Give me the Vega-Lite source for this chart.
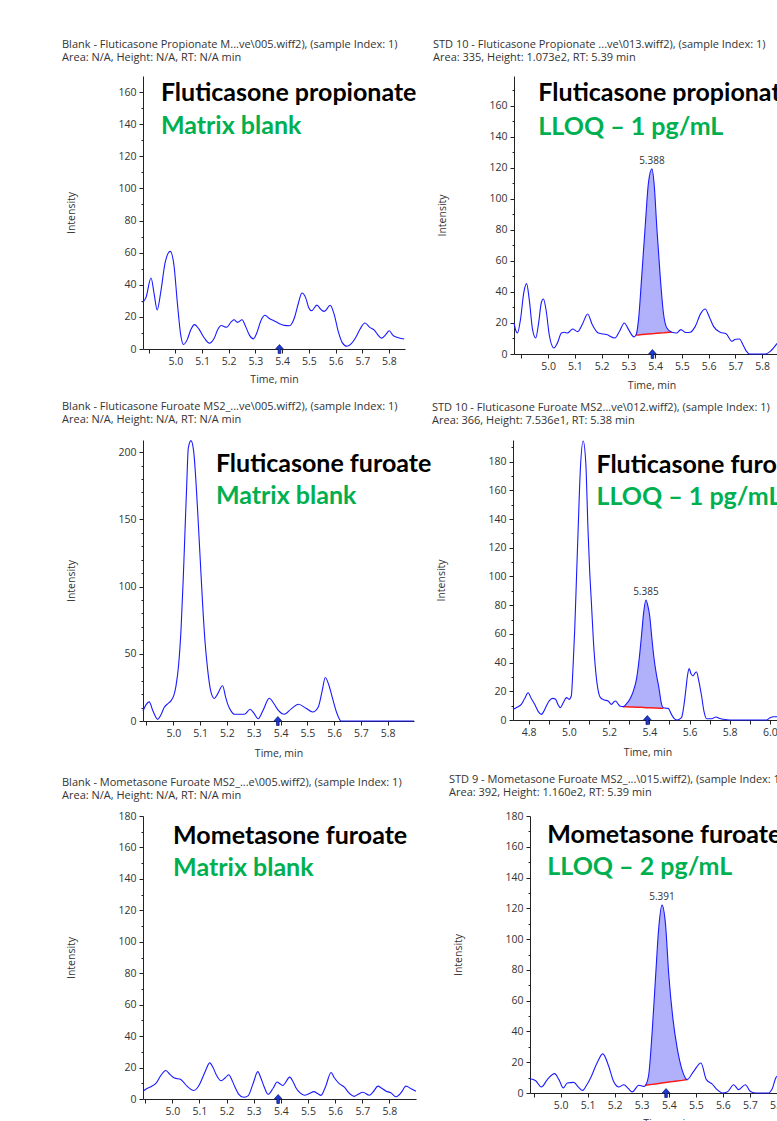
{
"$schema": "https://vega.github.io/schema/vega-lite/v6.json",
"padding": {"left": 62, "top": 39, "right": 0, "bottom": 0},
"config": {
  "view": {"stroke": null},
  "font": "Open Sans",
  "axis": {"grid": false, "domainColor": "#222", "tickColor": "#222", "labelColor": "#333", "labelFontSize": 10.5, "labelFont": "Open Sans", "titleFont": "Open Sans", "titleFontSize": 10.5, "titleFontWeight": "normal", "titleColor": "#333", "tickSize": 4, "labelPadding": 3},
  "title": {"anchor": "start", "frame": "bounds", "font": "Open Sans", "fontSize": 11, "fontWeight": "normal", "color": "#333", "subtitleFont": "Open Sans", "subtitleFontSize": 11, "subtitleColor": "#333", "subtitlePadding": 2, "offset": 13, "dx": -4},
  "text": {"font": "Lato", "fontWeight": "bold", "fontSize": 25, "align": "left", "baseline": "alphabetic"},
  "point": {"shape": "M0,-1L0.85,-0.05L0.3,-0.05L0.3,1L-0.3,1L-0.3,-0.05L-0.85,-0.05Z", "filled": true, "color": "#1a3bd6", "stroke": "#000060", "strokeWidth": 0.6, "size": 80, "yOffset": 5, "opacity": 1}
},
"datasets": {
  "one": [{}],
  "p1": [{"t":4.878,"v":29},{"t":4.890,"v":32},{"t":4.909,"v":44.2},{"t":4.921,"v":34},{"t":4.932,"v":24.3},{"t":4.946,"v":36},{"t":4.962,"v":54},{"t":4.981,"v":60.8},{"t":4.995,"v":52},{"t":5.008,"v":28},{"t":5.020,"v":9},{"t":5.031,"v":2.8},{"t":5.045,"v":6},{"t":5.058,"v":12},{"t":5.072,"v":15.2},{"t":5.088,"v":12.5},{"t":5.108,"v":7},{"t":5.128,"v":3.6},{"t":5.145,"v":6.5},{"t":5.160,"v":12.5},{"t":5.172,"v":14.6},{"t":5.192,"v":13.5},{"t":5.210,"v":17},{"t":5.220,"v":18.2},{"t":5.233,"v":16.6},{"t":5.250,"v":18.2},{"t":5.262,"v":14.5},{"t":5.278,"v":8.5},{"t":5.292,"v":6.3},{"t":5.305,"v":10},{"t":5.320,"v":17.5},{"t":5.336,"v":21},{"t":5.352,"v":19},{"t":5.371,"v":17.5},{"t":5.390,"v":15.8},{"t":5.408,"v":14.7},{"t":5.428,"v":14.5},{"t":5.445,"v":19},{"t":5.460,"v":28},{"t":5.474,"v":34.9},{"t":5.488,"v":32},{"t":5.500,"v":25.5},{"t":5.510,"v":23.8},{"t":5.530,"v":27.3},{"t":5.546,"v":24.5},{"t":5.558,"v":23.4},{"t":5.580,"v":27.2},{"t":5.594,"v":22},{"t":5.610,"v":11},{"t":5.625,"v":4},{"t":5.643,"v":1.7},{"t":5.660,"v":3.5},{"t":5.675,"v":7},{"t":5.692,"v":12.5},{"t":5.710,"v":16.2},{"t":5.728,"v":13.5},{"t":5.745,"v":11.8},{"t":5.760,"v":8.5},{"t":5.773,"v":6.8},{"t":5.788,"v":9},{"t":5.801,"v":11.4},{"t":5.815,"v":8.5},{"t":5.830,"v":7.3},{"t":5.857,"v":6.2}],
  "p2": [{"t":4.873,"v":20},{"t":4.880,"v":15},{"t":4.886,"v":13.5},{"t":4.897,"v":22},{"t":4.910,"v":40},{"t":4.920,"v":45.3},{"t":4.930,"v":35},{"t":4.942,"v":16},{"t":4.954,"v":10.3},{"t":4.965,"v":20},{"t":4.975,"v":33},{"t":4.983,"v":35.4},{"t":4.993,"v":28},{"t":5.005,"v":12},{"t":5.022,"v":3.9},{"t":5.035,"v":7},{"t":5.050,"v":13.5},{"t":5.062,"v":14},{"t":5.072,"v":13.5},{"t":5.092,"v":16.1},{"t":5.111,"v":14.4},{"t":5.128,"v":19},{"t":5.148,"v":25.8},{"t":5.165,"v":19},{"t":5.188,"v":13.5},{"t":5.219,"v":12.5},{"t":5.250,"v":10.3},{"t":5.268,"v":15},{"t":5.285,"v":20},{"t":5.300,"v":16},{"t":5.321,"v":11},{"t":5.329,"v":12.4},{"t":5.338,"v":22},{"t":5.350,"v":50},{"t":5.363,"v":82.3},{"t":5.375,"v":110},{"t":5.388,"v":119.2},{"t":5.397,"v":108},{"t":5.406,"v":82.3},{"t":5.419,"v":50},{"t":5.431,"v":26.4},{"t":5.444,"v":16.7},{"t":5.462,"v":14},{"t":5.480,"v":13.5},{"t":5.496,"v":15.7},{"t":5.515,"v":13.8},{"t":5.531,"v":14},{"t":5.550,"v":17.8},{"t":5.570,"v":26},{"t":5.587,"v":29},{"t":5.602,"v":24},{"t":5.618,"v":17.8},{"t":5.643,"v":14},{"t":5.665,"v":13.1},{"t":5.687,"v":8.2},{"t":5.700,"v":9.5},{"t":5.715,"v":9.7},{"t":5.728,"v":6},{"t":5.740,"v":2},{"t":5.753,"v":0},{"t":5.811,"v":0},{"t":5.830,"v":1.7},{"t":5.857,"v":7.1},{"t":5.880,"v":12},{"t":5.900,"v":14}],
  "p2pk": [{"t":5.329,"v":12.4,"base":12.2},{"t":5.338,"v":22,"base":12.3},{"t":5.350,"v":50,"base":12.5},{"t":5.363,"v":82.3,"base":12.7},{"t":5.375,"v":110,"base":12.9},{"t":5.388,"v":119.2,"base":13.1},{"t":5.397,"v":108,"base":13.2},{"t":5.406,"v":82.3,"base":13.4},{"t":5.419,"v":50,"base":13.6},{"t":5.431,"v":26.4,"base":13.7},{"t":5.444,"v":16.7,"base":13.9},{"t":5.462,"v":14,"base":14.2}],
  "p3": [{"t":4.887,"v":7.5},{"t":4.898,"v":12},{"t":4.910,"v":14.2},{"t":4.925,"v":7},{"t":4.942,"v":1.2},{"t":4.955,"v":5},{"t":4.966,"v":10},{"t":4.980,"v":13},{"t":4.991,"v":15},{"t":5.002,"v":19},{"t":5.010,"v":26},{"t":5.020,"v":42},{"t":5.029,"v":68.5},{"t":5.037,"v":105},{"t":5.044,"v":143},{"t":5.050,"v":175},{"t":5.056,"v":203},{"t":5.066,"v":208.5},{"t":5.076,"v":200.5},{"t":5.084,"v":180},{"t":5.091,"v":155.7},{"t":5.100,"v":122},{"t":5.109,"v":88.4},{"t":5.118,"v":60},{"t":5.128,"v":38.6},{"t":5.140,"v":22},{"t":5.153,"v":16.7},{"t":5.165,"v":20},{"t":5.184,"v":26.2},{"t":5.195,"v":18},{"t":5.203,"v":12.5},{"t":5.215,"v":7.5},{"t":5.228,"v":5},{"t":5.265,"v":5},{"t":5.287,"v":8.7},{"t":5.300,"v":6},{"t":5.317,"v":1.7},{"t":5.335,"v":8},{"t":5.358,"v":16.9},{"t":5.375,"v":13},{"t":5.389,"v":8.7},{"t":5.414,"v":5},{"t":5.440,"v":9},{"t":5.467,"v":12.5},{"t":5.495,"v":9.5},{"t":5.520,"v":6.7},{"t":5.540,"v":10},{"t":5.555,"v":22},{"t":5.567,"v":32.4},{"t":5.580,"v":27},{"t":5.595,"v":16.2},{"t":5.610,"v":6},{"t":5.626,"v":0},{"t":5.898,"v":0}],
  "p4": [{"t":4.722,"v":7.4},{"t":4.745,"v":9},{"t":4.763,"v":10.9},{"t":4.780,"v":15},{"t":4.797,"v":19},{"t":4.813,"v":15},{"t":4.830,"v":10.9},{"t":4.847,"v":6},{"t":4.863,"v":3.9},{"t":4.875,"v":6},{"t":4.888,"v":9.8},{"t":4.903,"v":13.5},{"t":4.918,"v":15.1},{"t":4.934,"v":14.4},{"t":4.945,"v":11},{"t":4.958,"v":8.6},{"t":4.972,"v":12},{"t":4.988,"v":15.6},{"t":5.001,"v":14.4},{"t":5.012,"v":16.7},{"t":5.020,"v":35},{"t":5.029,"v":63},{"t":5.038,"v":100},{"t":5.046,"v":132.8},{"t":5.057,"v":174.6},{"t":5.071,"v":194.4},{"t":5.084,"v":179.3},{"t":5.095,"v":132.8},{"t":5.103,"v":105},{"t":5.112,"v":81.7},{"t":5.122,"v":55},{"t":5.134,"v":33},{"t":5.145,"v":21},{"t":5.157,"v":15.6},{"t":5.175,"v":14},{"t":5.195,"v":13.2},{"t":5.212,"v":10.9},{"t":5.223,"v":12.5},{"t":5.233,"v":13.2},{"t":5.243,"v":11.5},{"t":5.253,"v":9.8},{"t":5.270,"v":9.3},{"t":5.285,"v":11},{"t":5.303,"v":14.4},{"t":5.320,"v":20},{"t":5.336,"v":28.3},{"t":5.350,"v":43},{"t":5.361,"v":58.5},{"t":5.372,"v":75},{"t":5.383,"v":83.6},{"t":5.392,"v":80},{"t":5.402,"v":72.5},{"t":5.412,"v":58},{"t":5.422,"v":44.6},{"t":5.435,"v":32},{"t":5.449,"v":21.4},{"t":5.458,"v":13},{"t":5.469,"v":8.5},{"t":5.480,"v":8.3},{"t":5.494,"v":8.1},{"t":5.510,"v":3.9},{"t":5.524,"v":1},{"t":5.539,"v":0},{"t":5.560,"v":1.6},{"t":5.572,"v":10},{"t":5.582,"v":21.4},{"t":5.590,"v":31},{"t":5.598,"v":35.8},{"t":5.608,"v":32},{"t":5.618,"v":30.7},{"t":5.626,"v":32.5},{"t":5.635,"v":33.4},{"t":5.645,"v":28},{"t":5.660,"v":16.7},{"t":5.672,"v":6},{"t":5.685,"v":0.9},{"t":5.710,"v":0.9},{"t":5.731,"v":2.1},{"t":5.750,"v":1},{"t":5.768,"v":0.5},{"t":5.800,"v":0},{"t":5.983,"v":0},{"t":6.000,"v":1.5},{"t":6.017,"v":2.3},{"t":6.060,"v":2.3}],
  "p4pk": [{"t":5.270,"v":9.3,"base":9.3},{"t":5.285,"v":11,"base":9.2},{"t":5.303,"v":14.4,"base":9.1},{"t":5.320,"v":20,"base":9.0},{"t":5.336,"v":28.3,"base":8.9},{"t":5.350,"v":43,"base":8.8},{"t":5.361,"v":58.5,"base":8.8},{"t":5.372,"v":75,"base":8.7},{"t":5.383,"v":83.6,"base":8.6},{"t":5.392,"v":80,"base":8.6},{"t":5.402,"v":72.5,"base":8.5},{"t":5.412,"v":58,"base":8.5},{"t":5.422,"v":44.6,"base":8.4},{"t":5.435,"v":32,"base":8.3},{"t":5.449,"v":21.4,"base":8.2},{"t":5.458,"v":13,"base":8.2},{"t":5.469,"v":8.5,"base":8.1}],
  "p5": [{"t":4.892,"v":4.9},{"t":4.905,"v":6.5},{"t":4.923,"v":8},{"t":4.941,"v":10.2},{"t":4.958,"v":15},{"t":4.976,"v":18.1},{"t":4.992,"v":15.5},{"t":5.008,"v":13.3},{"t":5.030,"v":12.5},{"t":5.042,"v":10.5},{"t":5.055,"v":8},{"t":5.080,"v":5.4},{"t":5.092,"v":7},{"t":5.103,"v":10.2},{"t":5.120,"v":17},{"t":5.138,"v":23},{"t":5.150,"v":20},{"t":5.162,"v":15.4},{"t":5.180,"v":11.6},{"t":5.195,"v":13.5},{"t":5.208,"v":15.4},{"t":5.220,"v":12},{"t":5.230,"v":8},{"t":5.245,"v":3},{"t":5.263,"v":1.1},{"t":5.279,"v":2},{"t":5.298,"v":10},{"t":5.315,"v":17.4},{"t":5.327,"v":13},{"t":5.338,"v":8},{"t":5.353,"v":3},{"t":5.372,"v":7},{"t":5.386,"v":10.8},{"t":5.398,"v":9.5},{"t":5.407,"v":8.6},{"t":5.433,"v":13.9},{"t":5.445,"v":11},{"t":5.456,"v":7},{"t":5.470,"v":4},{"t":5.487,"v":2.4},{"t":5.505,"v":3.5},{"t":5.522,"v":4.7},{"t":5.535,"v":3.5},{"t":5.548,"v":2.3},{"t":5.565,"v":8},{"t":5.585,"v":16.9},{"t":5.597,"v":13.5},{"t":5.615,"v":9.8},{"t":5.634,"v":7.6},{"t":5.650,"v":4},{"t":5.670,"v":1.7},{"t":5.685,"v":3},{"t":5.702,"v":4.3},{"t":5.726,"v":2.4},{"t":5.740,"v":4.5},{"t":5.758,"v":8.2},{"t":5.770,"v":7},{"t":5.788,"v":5},{"t":5.805,"v":4},{"t":5.824,"v":1.4},{"t":5.843,"v":4},{"t":5.861,"v":8.2},{"t":5.880,"v":6.5},{"t":5.898,"v":5}],
  "p6": [{"t":4.887,"v":9.3},{"t":4.908,"v":8},{"t":4.929,"v":3.9},{"t":4.951,"v":8.7},{"t":4.978,"v":12.6},{"t":4.994,"v":8.7},{"t":5.010,"v":3.3},{"t":5.025,"v":6.5},{"t":5.049,"v":6.9},{"t":5.065,"v":4},{"t":5.082,"v":1.7},{"t":5.096,"v":5},{"t":5.111,"v":9.8},{"t":5.135,"v":19.5},{"t":5.156,"v":25.4},{"t":5.178,"v":17.4},{"t":5.195,"v":8},{"t":5.203,"v":5.4},{"t":5.215,"v":3.9},{"t":5.234,"v":5.4},{"t":5.250,"v":3},{"t":5.265,"v":0.7},{"t":5.289,"v":5},{"t":5.308,"v":4.3},{"t":5.314,"v":5},{"t":5.326,"v":12},{"t":5.338,"v":38},{"t":5.351,"v":74.8},{"t":5.363,"v":107.4},{"t":5.375,"v":122.1},{"t":5.388,"v":109.6},{"t":5.400,"v":77},{"t":5.415,"v":48.8},{"t":5.431,"v":29.3},{"t":5.449,"v":15.2},{"t":5.468,"v":8.7},{"t":5.492,"v":14.1},{"t":5.519,"v":19.5},{"t":5.539,"v":8.7},{"t":5.560,"v":5.9},{"t":5.580,"v":2},{"t":5.597,"v":0},{"t":5.616,"v":0.6},{"t":5.640,"v":5.4},{"t":5.658,"v":2.2},{"t":5.683,"v":5.4},{"t":5.701,"v":1.1},{"t":5.720,"v":0},{"t":5.770,"v":0},{"t":5.781,"v":2.2},{"t":5.800,"v":10.8},{"t":5.812,"v":7.5},{"t":5.840,"v":5},{"t":5.870,"v":6},{"t":5.900,"v":5}],
  "p6pk": [{"t":5.314,"v":5,"base":5.0},{"t":5.326,"v":12,"base":5.3},{"t":5.338,"v":38,"base":5.6},{"t":5.351,"v":74.8,"base":5.9},{"t":5.363,"v":107.4,"base":6.2},{"t":5.375,"v":122.1,"base":6.5},{"t":5.388,"v":109.6,"base":6.8},{"t":5.400,"v":77,"base":7.1},{"t":5.415,"v":48.8,"base":7.4},{"t":5.431,"v":29.3,"base":7.8},{"t":5.449,"v":15.2,"base":8.2},{"t":5.468,"v":8.7,"base":8.7}]
},
"spacing": 10,
"vconcat": [
 {"spacing": 16, "hconcat": [
  {"title": {"text": "Blank - Fluticasone Propionate M...ve\\005.wiff2), (sample Index: 1)", "subtitle": "Area: N/A, Height: N/A, RT: N/A min"},
   "width": 262, "height": 273,
   "resolve": {"axis": {"x": "independent", "y": "independent"}},
   "layer": [
    {"data": {"name": "p1"}, "mark": {"type": "line", "interpolate": "monotone", "color": "#1a1aff", "strokeWidth": 1.1},
     "encoding": {
      "x": {"field": "t", "type": "quantitative", "scale": {"domain": [4.879, 5.86], "nice": false, "zero": false}, "axis": {"title": "Time, min", "values": [4.9,5.0,5.1,5.2,5.3,5.4,5.5,5.6,5.7,5.8], "labelExpr": "datum.value < 4.95 ? '' : format(datum.value, '.1f')", "titlePadding": 8}},
      "y": {"field": "v", "type": "quantitative", "scale": {"domain": [0, 170], "nice": false}, "axis": {"title": "Intensity", "values": [0,20,40,60,80,100,120,140,160], "titleX": -67}}}},
    {"data": {"name": "one"}, "mark": {"type": "point"},
     "encoding": {"x": {"datum": 5.39, "type": "quantitative", "axis": null},
      "y": {"datum": 0, "type": "quantitative", "axis": {"orient": "left", "values": [10,30,50,70,90,110,130,150], "labels": false, "title": null, "domain": false, "tickSize": 2}}}},
    {"data": {"name": "one"}, "mark": {"type": "text", "color": "#000000"},
     "encoding": {"x": {"datum": 4.946, "type": "quantitative", "axis": null}, "y": {"datum": 154.2, "type": "quantitative", "axis": null}, "text": {"value": "Fluticasone propionate"}}},
    {"data": {"name": "one"}, "mark": {"type": "text", "color": "#00B050"},
     "encoding": {"x": {"datum": 4.946, "type": "quantitative", "axis": null}, "y": {"datum": 134.1, "type": "quantitative", "axis": null}, "text": {"value": "Matrix blank"}}}
   ]},
  {"title": {"text": "STD 10 - Fluticasone Propionate ...ve\\013.wiff2), (sample Index: 1)", "subtitle": "Area: 335, Height: 1.073e2, RT: 5.39 min"},
   "width": 275, "height": 278,
   "resolve": {"axis": {"x": "independent", "y": "independent"}},
   "layer": [
    {"data": {"name": "p2pk"}, "mark": {"type": "area", "interpolate": "monotone", "color": "#a3a3fa", "opacity": 0.85},
     "encoding": {"x": {"field": "t", "type": "quantitative", "axis": null}, "y": {"field": "v", "type": "quantitative", "axis": null}, "y2": {"field": "base"}}},
    {"data": {"name": "p2pk"}, "mark": {"type": "line", "color": "#ff1a1a", "strokeWidth": 1.5},
     "encoding": {"x": {"field": "t", "type": "quantitative", "axis": null}, "y": {"field": "base", "type": "quantitative", "axis": null}}},
    {"data": {"name": "p2"}, "mark": {"type": "line", "interpolate": "monotone", "color": "#1a1aff", "strokeWidth": 1.1},
     "encoding": {
      "x": {"field": "t", "type": "quantitative", "scale": {"domain": [4.873, 5.90], "nice": false, "zero": false}, "axis": {"title": "Time, min", "values": [4.9,5.0,5.1,5.2,5.3,5.4,5.5,5.6,5.7,5.8,5.9], "labelExpr": "datum.value < 4.95 || datum.value > 5.85 ? '' : format(datum.value, '.1f')", "titlePadding": 9}},
      "y": {"field": "v", "type": "quantitative", "scale": {"domain": [0, 179], "nice": false}, "axis": {"title": "Intensity", "values": [0,20,40,60,80,100,120,140,160], "titleX": -67}}}},
    {"data": {"name": "one"}, "mark": {"type": "point"},
     "encoding": {"x": {"datum": 5.39, "type": "quantitative", "axis": null},
      "y": {"datum": 0, "type": "quantitative", "axis": {"orient": "left", "values": [10,30,50,70,90,110,130,150,170], "labels": false, "title": null, "domain": false, "tickSize": 2}}}},
    {"data": {"name": "one"}, "mark": {"type": "text", "align": "center", "baseline": "bottom", "dy": -3, "font": "Open Sans", "fontWeight": "normal", "fontSize": 10, "color": "#333"},
     "encoding": {"x": {"datum": 5.388, "type": "quantitative", "axis": null}, "y": {"datum": 119.2, "type": "quantitative", "axis": null}, "text": {"value": "5.388"}}},
    {"data": {"name": "one"}, "mark": {"type": "text", "color": "#000000"},
     "encoding": {"x": {"datum": 4.964, "type": "quantitative", "axis": null}, "y": {"datum": 162.8, "type": "quantitative", "axis": null}, "text": {"value": "Fluticasone propionate"}}},
    {"data": {"name": "one"}, "mark": {"type": "text", "color": "#00B050"},
     "encoding": {"x": {"datum": 4.964, "type": "quantitative", "axis": null}, "y": {"datum": 141.3, "type": "quantitative", "axis": null}, "text": {"value": "LLOQ – 1 pg/mL"}}}
   ]}
 ]},
 {"spacing": 15, "vconcat": [
 {"spacing": 0, "hconcat": [
  {"title": {"text": "Blank - Fluticasone Furoate MS2_...ve\\005.wiff2), (sample Index: 1)", "subtitle": "Area: N/A, Height: N/A, RT: N/A min"},
   "width": 271, "height": 281,
   "resolve": {"axis": {"x": "independent", "y": "independent"}},
   "layer": [
    {"data": {"name": "p3"}, "mark": {"type": "line", "interpolate": "monotone", "color": "#1a1aff", "strokeWidth": 1.1},
     "encoding": {
      "x": {"field": "t", "type": "quantitative", "scale": {"domain": [4.887, 5.898], "nice": false, "zero": false}, "axis": {"title": "Time, min", "values": [4.9,5.0,5.1,5.2,5.3,5.4,5.5,5.6,5.7,5.8], "labelExpr": "datum.value < 4.95 ? '' : format(datum.value, '.1f')", "titlePadding": 10}},
      "y": {"field": "v", "type": "quantitative", "scale": {"domain": [0, 209], "nice": false}, "axis": {"title": "Intensity", "values": [0,50,100,150,200], "titleX": -67}}}},
    {"data": {"name": "one"}, "mark": {"type": "point"},
     "encoding": {"x": {"datum": 5.39, "type": "quantitative", "axis": null},
      "y": {"datum": 0, "type": "quantitative", "axis": {"orient": "left", "values": [10,20,30,40,60,70,80,90,110,120,130,140,160,170,180,190], "labels": false, "title": null, "domain": false, "tickSize": 2}}}},
    {"data": {"name": "one"}, "mark": {"type": "text", "color": "#000000"},
     "encoding": {"x": {"datum": 5.159, "type": "quantitative", "axis": null}, "y": {"datum": 185, "type": "quantitative", "axis": null}, "text": {"value": "Fluticasone furoate"}}},
    {"data": {"name": "one"}, "mark": {"type": "text", "color": "#00B050"},
     "encoding": {"x": {"datum": 5.159, "type": "quantitative", "axis": null}, "y": {"datum": 161.2, "type": "quantitative", "axis": null}, "text": {"value": "Matrix blank"}}}
   ]},
  {"title": {"text": "STD 10 - Fluticasone Furoate MS2...ve\\012.wiff2), (sample Index: 1)", "subtitle": "Area: 366, Height: 7.536e1, RT: 5.38 min"},
   "width": 269, "height": 280,
   "resolve": {"axis": {"x": "independent", "y": "independent"}},
   "layer": [
    {"data": {"name": "p4pk"}, "mark": {"type": "area", "interpolate": "monotone", "color": "#a3a3fa", "opacity": 0.85},
     "encoding": {"x": {"field": "t", "type": "quantitative", "axis": null}, "y": {"field": "v", "type": "quantitative", "axis": null}, "y2": {"field": "base"}}},
    {"data": {"name": "p4pk"}, "mark": {"type": "line", "color": "#ff1a1a", "strokeWidth": 1.5},
     "encoding": {"x": {"field": "t", "type": "quantitative", "axis": null}, "y": {"field": "base", "type": "quantitative", "axis": null}}},
    {"data": {"name": "p4"}, "mark": {"type": "line", "interpolate": "monotone", "color": "#1a1aff", "strokeWidth": 1.1},
     "encoding": {
      "x": {"field": "t", "type": "quantitative", "scale": {"domain": [4.722, 6.06], "nice": false, "zero": false}, "axis": {"title": "Time, min", "values": [4.8,4.9,5.0,5.1,5.2,5.3,5.4,5.5,5.6,5.7,5.8,5.9,6.0], "labelExpr": "round(datum.value*10) % 2 == 0 ? format(datum.value, '.1f') : ''", "titlePadding": 10}},
      "y": {"field": "v", "type": "quantitative", "scale": {"domain": [0, 195.1], "nice": false}, "axis": {"title": "Intensity", "values": [0,20,40,60,80,100,120,140,160,180], "titleX": -67}}}},
    {"data": {"name": "one"}, "mark": {"type": "point"},
     "encoding": {"x": {"datum": 5.39, "type": "quantitative", "axis": null},
      "y": {"datum": 0, "type": "quantitative", "axis": {"orient": "left", "values": [10,30,50,70,90,110,130,150,170,190], "labels": false, "title": null, "domain": false, "tickSize": 2}}}},
    {"data": {"name": "one"}, "mark": {"type": "text", "align": "center", "baseline": "bottom", "dy": -3, "font": "Open Sans", "fontWeight": "normal", "fontSize": 10, "color": "#333"},
     "encoding": {"x": {"datum": 5.383, "type": "quantitative", "axis": null}, "y": {"datum": 83.6, "type": "quantitative", "axis": null}, "text": {"value": "5.385"}}},
    {"data": {"name": "one"}, "mark": {"type": "text", "color": "#000000"},
     "encoding": {"x": {"datum": 5.137, "type": "quantitative", "axis": null}, "y": {"datum": 171.9, "type": "quantitative", "axis": null}, "text": {"value": "Fluticasone furoate"}}},
    {"data": {"name": "one"}, "mark": {"type": "text", "color": "#00B050"},
     "encoding": {"x": {"datum": 5.137, "type": "quantitative", "axis": null}, "y": {"datum": 149.6, "type": "quantitative", "axis": null}, "text": {"value": "LLOQ – 1 pg/mL"}}}
   ]}
 ]},
 {"spacing": 30, "hconcat": [
  {"title": {"text": "Blank - Mometasone Furoate MS2_...e\\005.wiff2), (sample Index: 1)", "subtitle": "Area: N/A, Height: N/A, RT: N/A min", "offset": 10},
   "width": 273, "height": 283,
   "resolve": {"axis": {"x": "independent", "y": "independent"}},
   "layer": [
    {"data": {"name": "p5"}, "mark": {"type": "line", "interpolate": "monotone", "color": "#1a1aff", "strokeWidth": 1.1},
     "encoding": {
      "x": {"field": "t", "type": "quantitative", "scale": {"domain": [4.892, 5.898], "nice": false, "zero": false}, "axis": {"title": "Time, min", "values": [4.9,5.0,5.1,5.2,5.3,5.4,5.5,5.6,5.7,5.8], "labelExpr": "datum.value < 4.95 ? '' : format(datum.value, '.1f')", "titlePadding": 8}},
      "y": {"field": "v", "type": "quantitative", "scale": {"domain": [0, 180], "nice": false}, "axis": {"title": "Intensity", "values": [0,20,40,60,80,100,120,140,160,180], "titleX": -67}}}},
    {"data": {"name": "one"}, "mark": {"type": "point"},
     "encoding": {"x": {"datum": 5.39, "type": "quantitative", "axis": null},
      "y": {"datum": 0, "type": "quantitative", "axis": {"orient": "left", "values": [10,30,50,70,90,110,130,150,170], "labels": false, "title": null, "domain": false, "tickSize": 2}}}},
    {"data": {"name": "one"}, "mark": {"type": "text", "color": "#000000"},
     "encoding": {"x": {"datum": 5.003, "type": "quantitative", "axis": null}, "y": {"datum": 162, "type": "quantitative", "axis": null}, "text": {"value": "Mometasone furoate"}}},
    {"data": {"name": "one"}, "mark": {"type": "text", "color": "#00B050"},
     "encoding": {"x": {"datum": 5.003, "type": "quantitative", "axis": null}, "y": {"datum": 141.8, "type": "quantitative", "axis": null}, "text": {"value": "Matrix blank"}}}
   ]},
  {"title": {"text": "STD 9 - Mometasone Furoate MS2_...\\015.wiff2), (sample Index: 1)", "subtitle": "Area: 392, Height: 1.160e2, RT: 5.39 min", "offset": 13},
   "width": 274, "height": 277,
   "resolve": {"axis": {"x": "independent", "y": "independent"}},
   "layer": [
    {"data": {"name": "p6pk"}, "mark": {"type": "area", "interpolate": "monotone", "color": "#a3a3fa", "opacity": 0.85},
     "encoding": {"x": {"field": "t", "type": "quantitative", "axis": null}, "y": {"field": "v", "type": "quantitative", "axis": null}, "y2": {"field": "base"}}},
    {"data": {"name": "p6pk"}, "mark": {"type": "line", "color": "#ff1a1a", "strokeWidth": 1.5},
     "encoding": {"x": {"field": "t", "type": "quantitative", "axis": null}, "y": {"field": "base", "type": "quantitative", "axis": null}}},
    {"data": {"name": "p6"}, "mark": {"type": "line", "interpolate": "monotone", "color": "#1a1aff", "strokeWidth": 1.1},
     "encoding": {
      "x": {"field": "t", "type": "quantitative", "scale": {"domain": [4.887, 5.90], "nice": false, "zero": false}, "axis": {"title": "Time, min", "values": [4.9,5.0,5.1,5.2,5.3,5.4,5.5,5.6,5.7,5.8,5.9], "labelExpr": "datum.value < 4.95 || datum.value > 5.85 ? '' : format(datum.value, '.1f')", "titlePadding": 8}},
      "y": {"field": "v", "type": "quantitative", "scale": {"domain": [0, 180], "nice": false}, "axis": {"title": "Intensity", "values": [0,20,40,60,80,100,120,140,160,180], "titleX": -67}}}},
    {"data": {"name": "one"}, "mark": {"type": "point"},
     "encoding": {"x": {"datum": 5.39, "type": "quantitative", "axis": null},
      "y": {"datum": 0, "type": "quantitative", "axis": {"orient": "left", "values": [10,30,50,70,90,110,130,150,170], "labels": false, "title": null, "domain": false, "tickSize": 2}}}},
    {"data": {"name": "one"}, "mark": {"type": "text", "align": "center", "baseline": "bottom", "dy": -3, "font": "Open Sans", "fontWeight": "normal", "fontSize": 10, "color": "#333"},
     "encoding": {"x": {"datum": 5.375, "type": "quantitative", "axis": null}, "y": {"datum": 122.1, "type": "quantitative", "axis": null}, "text": {"value": "5.391"}}},
    {"data": {"name": "one"}, "mark": {"type": "text", "color": "#000000"},
     "encoding": {"x": {"datum": 4.951, "type": "quantitative", "axis": null}, "y": {"datum": 162.3, "type": "quantitative", "axis": null}, "text": {"value": "Mometasone furoate"}}},
    {"data": {"name": "one"}, "mark": {"type": "text", "color": "#00B050"},
     "encoding": {"x": {"datum": 4.951, "type": "quantitative", "axis": null}, "y": {"datum": 141.4, "type": "quantitative", "axis": null}, "text": {"value": "LLOQ – 2 pg/mL"}}}
   ]}
 ]}
 ]}
]
}
